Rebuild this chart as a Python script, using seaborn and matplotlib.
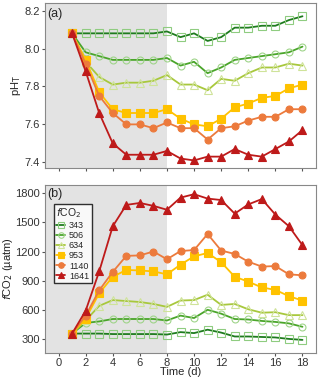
#pH and fCO2 over time per treatment
import matplotlib
matplotlib.use("Agg")
import matplotlib.pyplot as plt
import seaborn as sns
import pandas as pd

#data
days = list(range(1, 19))
treatments = ['343', '506', '634', '953', '1140', '1641']

ph_343 = [8.08, 8.08, 8.08, 8.08, 8.08, 8.08, 8.08, 8.09, 8.06, 8.08, 8.04, 8.06, 8.11, 8.11, 8.12, 8.12, 8.15, 8.17]
ph_506 = [8.08, 7.98, 7.96, 7.94, 7.94, 7.94, 7.94, 7.95, 7.91, 7.93, 7.87, 7.90, 7.94, 7.95, 7.96, 7.97, 7.98, 8.01]
ph_634 = [8.08, 7.93, 7.85, 7.81, 7.82, 7.82, 7.83, 7.86, 7.81, 7.81, 7.78, 7.84, 7.83, 7.87, 7.90, 7.90, 7.92, 7.91]
ph_953 = [8.08, 7.94, 7.77, 7.68, 7.66, 7.66, 7.66, 7.68, 7.63, 7.60, 7.59, 7.63, 7.69, 7.71, 7.74, 7.75, 7.79, 7.81]
ph_1140 = [8.08, 7.92, 7.75, 7.66, 7.60, 7.60, 7.58, 7.61, 7.58, 7.58, 7.52, 7.58, 7.59, 7.62, 7.64, 7.64, 7.68, 7.68]
ph_1641 = [8.08, 7.88, 7.66, 7.50, 7.44, 7.44, 7.44, 7.46, 7.42, 7.41, 7.43, 7.43, 7.47, 7.44, 7.43, 7.47, 7.51, 7.57]

fco2_343 = [355, 355, 355, 350, 350, 350, 350, 345, 370, 360, 395, 365, 325, 325, 320, 315, 300, 290]
fco2_506 = [355, 465, 480, 505, 505, 505, 505, 490, 540, 515, 600, 560, 505, 500, 485, 475, 460, 425]
fco2_634 = [355, 490, 640, 700, 690, 680, 660, 630, 695, 700, 755, 650, 660, 605, 570, 575, 545, 545]
fco2_953 = [355, 510, 770, 940, 1010, 1005, 995, 965, 1065, 1150, 1185, 1090, 940, 890, 830, 805, 740, 695]
fco2_1140 = [355, 540, 800, 990, 1155, 1160, 1200, 1120, 1205, 1215, 1380, 1210, 1175, 1095, 1045, 1050, 965, 955]
fco2_1641 = [355, 590, 995, 1460, 1680, 1700, 1670, 1630, 1755, 1790, 1745, 1730, 1590, 1685, 1740, 1580, 1460, 1265]

ph = [ph_343, ph_506, ph_634, ph_953, ph_1140, ph_1641]
fco2 = [fco2_343, fco2_506, fco2_634, fco2_953, fco2_1140, fco2_1641]

#styles
line_cols = ['#1e7b1e', '#4aa52a', '#a8c83c', '#ffc200', '#ec7a3c', '#be1a1a']
mark_cols = ['#8fcc80', '#9fd48a', '#cfe39a', '#ffc200', '#ec7a3c', '#be1a1a']
markers = ['s', 'o', '^', 's', 'o', '^']
filled = [False, False, False, True, True, True]

sns.set_style("ticks")
plt.rcParams['font.family'] = ['Liberation Sans', 'DejaVu Sans']
plt.rcParams['font.size'] = 8

fig = plt.figure(figsize=(3.2, 3.79), dpi=100)
ax1 = fig.add_axes([0.1406, 0.5567, 0.847, 0.4354])
ax2 = fig.add_axes([0.1406, 0.0686, 0.847, 0.4433])

rows = []
for i, t in enumerate(treatments):
    for d, p, f in zip(days, ph[i], fco2[i]):
        rows.append({'day': d, 'trt': t, 'ph': p, 'fco2': f})
df = pd.DataFrame(rows)

for ax, var in [(ax1, 'ph'), (ax2, 'fco2')]:
    ax.axvspan(-1, 8, color='#e3e3e3', zorder=0, lw=0)
    for i, t in enumerate(treatments):
        sub = df[df.trt == t]
        sns.lineplot(data=sub, x='day', y=var, ax=ax, color=line_cols[i], lw=1.3,
                     marker=markers[i], markersize=5.5 if markers[i] != 'o' else 5,
                     mfc=mark_cols[i] if filled[i] else 'none', mec=mark_cols[i],
                     mew=0.8, label=t, legend=False)
    ax.set_xlim(-1, 19)
    ax.set_xticks(range(0, 19, 2))
    for s in ax.spines.values():
        s.set_color('#888888')
        s.set_linewidth(0.8)
    ax.tick_params(color='#555555', labelcolor='#333333', length=2.5, width=0.8,
                   labelsize=8, pad=1)
    ax.set_xlabel('')

ax1.set_ylim(7.37, 8.24)
ax1.set_yticks([7.4, 7.6, 7.8, 8.0, 8.2])
ax1.set_xticklabels([])
ax1.set_ylabel('pH$_\\mathrm{T}$', fontsize=8, labelpad=1)
ax1.text(0.01, 0.97, '(a)', transform=ax1.transAxes, ha='left', va='top', fontsize=9)

ax2.set_ylim(155, 1885)
ax2.set_yticks([300, 600, 900, 1200, 1500, 1800])
ax2.set_xlabel('Time (d)', fontsize=8, labelpad=-0.5)
ax2.set_ylabel('$f$CO$_2$ (µatm)', fontsize=8, labelpad=0)
ax2.text(0.01, 0.985, '(b)', transform=ax2.transAxes, ha='left', va='top', fontsize=9)

handles, labels = ax2.get_legend_handles_labels()
leg = ax2.legend(handles, labels, title='$f$CO$_2$', loc='upper left',
                 bbox_to_anchor=(0.025, 0.9), fontsize=6.5, title_fontsize=7.5,
                 frameon=True, fancybox=False, edgecolor='black',
                 handlelength=1.0, handletextpad=0.4, labelspacing=0.12,
                 borderpad=0.3, borderaxespad=0.2, markerscale=0.8)
leg.get_frame().set_linewidth(1.0)
leg._legend_box.align = 'left'

fig.savefig('out.png', dpi=100)
